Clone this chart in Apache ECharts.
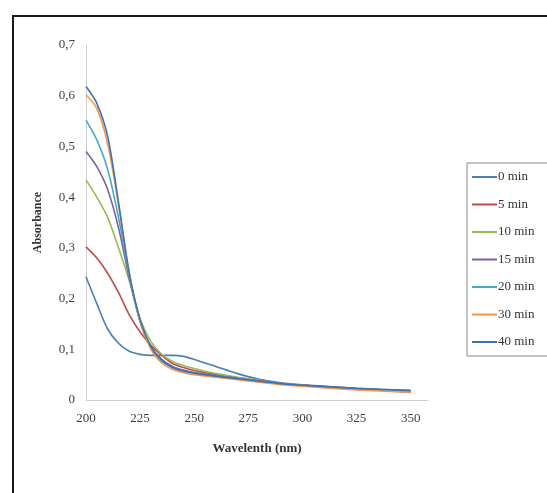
<!DOCTYPE html>
<html>
<head>
<meta charset="utf-8">
<script src="https://cdn.jsdelivr.net/npm/echarts@6/dist/echarts.min.js"></script>
<style>html,body{margin:0;padding:0;background:#fff}#c{width:547px;height:493px}</style>
</head>
<body>
<div id="c"></div>
<script>
const wavelengths = [200,205,210,215,220,225,230,235,240,245,250,260,270,280,290,300,325,350];
const seriesNames = ['0 min','5 min','10 min','15 min','20 min','30 min','40 min'];
const min0  = [0.243,0.190,0.140,0.112,0.096,0.090,0.088,0.088,0.088,0.086,0.080,0.066,0.052,0.041,0.034,0.030,0.023,0.018];
const min5  = [0.302,0.280,0.250,0.212,0.168,0.134,0.108,0.088,0.072,0.064,0.058,0.050,0.044,0.038,0.032,0.028,0.022,0.016];
const min10 = [0.434,0.400,0.360,0.300,0.235,0.160,0.115,0.090,0.076,0.068,0.062,0.052,0.045,0.039,0.033,0.029,0.022,0.016];
const min15 = [0.490,0.460,0.415,0.340,0.240,0.155,0.105,0.080,0.066,0.059,0.054,0.048,0.043,0.038,0.033,0.029,0.022,0.016];
const min20 = [0.552,0.513,0.455,0.360,0.245,0.155,0.103,0.077,0.064,0.057,0.053,0.047,0.042,0.037,0.032,0.028,0.022,0.017];
const min30 = [0.602,0.575,0.505,0.385,0.250,0.155,0.100,0.073,0.060,0.054,0.050,0.045,0.040,0.035,0.030,0.027,0.020,0.015];
const min40 = [0.618,0.585,0.520,0.390,0.250,0.158,0.105,0.078,0.064,0.057,0.053,0.047,0.042,0.037,0.032,0.029,0.023,0.019];
const allValues = [min0,min5,min10,min15,min20,min30,min40];
const colors = ['#4A7EBB','#BE4B48','#98B954','#7D60A0','#46AAC5','#F79646','#3E72B5'];
const yTicks = ['0','0,1','0,2','0,3','0,4','0,5','0,6','0,7'];

const font = '"Liberation Serif","Times New Roman",serif';
const chart = echarts.init(document.getElementById('c'));
chart.setOption({
  animation: false,
  backgroundColor: '#fff',
  graphic: [{
    type: 'rect', silent: true,
    shape: {x: 13, y: 16, width: 600, height: 600},
    style: {fill: 'none', stroke: '#1a1a1a', lineWidth: 2}
  }],
  grid: {left: 86, top: 45, right: 119, bottom: 93},
  legend: {
    orient: 'vertical', left: 467, top: 163,
    padding: [7, 80, 7, 5],
    borderColor: '#8a8a8a', borderWidth: 1,
    icon: 'rect',
    itemWidth: 25, itemHeight: 2, itemGap: 13.5,
    textStyle: {fontFamily: font, fontSize: 13, color: '#333', lineHeight: 14, padding: [0, 0, 0, -4]},
    data: seriesNames
  },
  xAxis: {
    type: 'value', min: 200, max: 358, interval: 25,
    name: 'Wavelenth (nm)', nameLocation: 'middle', nameGap: 42,
    nameTextStyle: {fontFamily: font, fontSize: 13, fontWeight: 'bold', color: '#333'},
    axisLine: {show: true, lineStyle: {color: '#d0d0d0', width: 1}},
    axisTick: {show: false},
    splitLine: {show: false},
    axisLabel: {
      fontFamily: font, fontSize: 13, color: '#404040', margin: 12, showMaxLabel: false,
      formatter: v => (v % 25 === 0 && v <= 350) ? String(v) : ''
    }
  },
  yAxis: {
    type: 'value', min: 0, max: 0.7, interval: 0.1,
    name: 'Absorbance', nameLocation: 'middle', nameGap: 42,
    nameTextStyle: {fontFamily: font, fontSize: 12, fontWeight: 'bold', color: '#333'},
    axisLine: {show: true, lineStyle: {color: '#d0d0d0', width: 1}},
    axisTick: {show: false},
    splitLine: {show: false},
    axisLabel: {
      fontFamily: font, fontSize: 13, color: '#404040', margin: 11,
      formatter: (v) => yTicks[Math.round(v * 10)]
    }
  },
  series: seriesNames.map((n, i) => ({
    name: n, type: 'line', smooth: 0.3, symbol: 'none',
    data: wavelengths.map((w, j) => [w, allValues[i][j]]),
    lineStyle: {color: colors[i], width: 1.6},
    itemStyle: {color: colors[i]}
  }))
});
</script>
</body>
</html>
